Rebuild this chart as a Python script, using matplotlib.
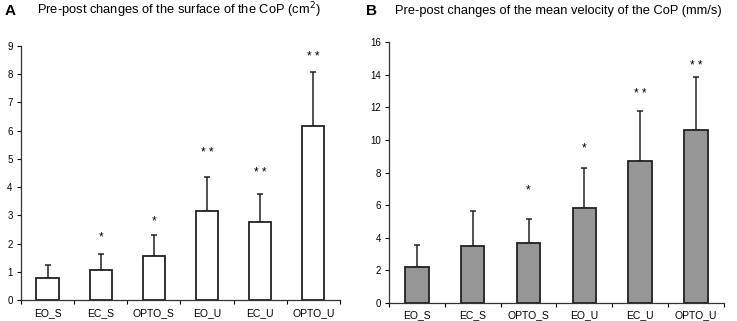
import numpy as np
import matplotlib
matplotlib.use('Agg')
import matplotlib.pyplot as plt

plt.rcParams['font.family'] = ['Liberation Sans', 'DejaVu Sans']

CATEGORIES = ['EO_S', 'EC_S', 'OPTO_S', 'EO_U', 'EC_U', 'OPTO_U']

# panel A: surface of the CoP (cm2)
SURF_MEAN = [0.78, 1.08, 1.55, 3.15, 2.77, 6.17]
SURF_SD = [0.47, 0.54, 0.75, 1.20, 0.99, 1.89]
SURF_STARS = ['', '*', '*', '* *', '* *', '* *']
SURF_STAR_Y = [0, 2.2, 2.8, 5.2, 4.5, 8.6]

# panel B: mean velocity of the CoP (mm/s)
VEL_MEAN = [2.2, 3.47, 3.68, 5.8, 8.7, 10.6]
VEL_SD = [1.35, 2.18, 1.47, 2.5, 3.1, 3.25]
VEL_STARS = ['', '', '*', '*', '* *', '* *']
VEL_STAR_Y = [0, 0, 6.9, 9.45, 12.8, 14.55]


def draw_panel(ax, means, sds, stars, star_y, color, ymax, ystep, pad):
    x = np.arange(len(CATEGORIES))
    ax.bar(x, means, width=0.42, color=color, edgecolor='#222222', linewidth=1.3, zorder=2)
    ax.errorbar(x, means, yerr=[np.zeros(len(sds)), sds], fmt='none', ecolor='#222222',
                elinewidth=1.1, capsize=2.5, capthick=1.1, zorder=1)
    for xi, s, sy in zip(x, stars, star_y):
        if s:
            ax.text(xi, sy, s, ha='center', va='center', fontsize=8.5)
    ax.set_xlim(-0.5, len(CATEGORIES) - 0.5)
    ax.set_ylim(0, ymax)
    ax.set_yticks(np.arange(0, ymax + 0.1, ystep))
    ax.set_xticks(x)
    ax.set_xticklabels(CATEGORIES)
    ax.set_xticks(np.arange(-0.5, len(CATEGORIES)), minor=True)
    ax.tick_params(axis='x', which='major', length=0, labelsize=7.5, pad=pad)
    ax.tick_params(axis='x', which='minor', length=3, width=0.8)
    ax.tick_params(axis='y', length=3, width=0.8, labelsize=7, pad=3)
    for side in ['top', 'right']:
        ax.spines[side].set_visible(False)
    for side in ['left', 'bottom']:
        ax.spines[side].set_linewidth(0.9)
        ax.spines[side].set_color('#333333')


fig = plt.figure(figsize=(7.37, 3.21), dpi=100)
ax1 = fig.add_axes([0.0285, 0.0654, 0.4325, 0.7916])
ax2 = fig.add_axes([0.528, 0.056, 0.454, 0.813])

draw_panel(ax1, SURF_MEAN, SURF_SD, SURF_STARS, SURF_STAR_Y, 'white', 9, 1, 6)
draw_panel(ax2, VEL_MEAN, VEL_SD, VEL_STARS, VEL_STAR_Y, '#969696', 16, 2, 5.3)

fig.text(0.006, 0.967, 'A', fontsize=11, fontweight='bold', va='center')
fig.text(0.05, 0.967, 'Pre-post changes of the surface of the CoP (cm$^2$)', fontsize=9.3, va='center')
fig.text(0.497, 0.967, 'B', fontsize=11, fontweight='bold', va='center')
fig.text(0.536, 0.967, 'Pre-post changes of the mean velocity of the CoP (mm/s)', fontsize=9.3, va='center')

fig.savefig('out.png', dpi=100)
